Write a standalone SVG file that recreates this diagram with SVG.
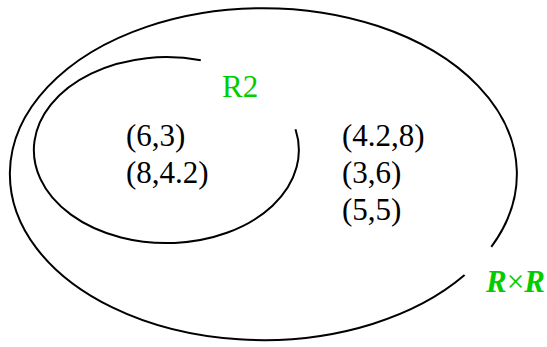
<svg xmlns="http://www.w3.org/2000/svg" width="547" height="347" viewBox="0 0 547 347">
<style>
.curve{fill:none;stroke:#000;stroke-width:2}
.t{font-family:"Liberation Serif","Times New Roman",serif;font-size:31px;fill:#000}
.g{fill:#00cc00}
</style>
<rect width="547" height="347" fill="#fff"/>
<g id="RxR-set">
<path class="curve" d="M491.3,246.8 A253.5,166 0 1 0 464.6,275.1"/>
<text class="t g" x="486" y="292" font-weight="bold" font-style="italic">R<tspan font-weight="normal" font-style="normal">×</tspan>R</text>
</g>
<g id="R2-set">
<path class="curve" d="M295.5,129.3 A132.5,93 0 1 1 200.8,60.3"/>
<text class="t g" x="222" y="97">R2</text>
</g>
<g id="inner-pairs">
<text class="t" x="126" y="146">(6,3)</text>
<text class="t" x="126" y="183">(8,4.2)</text>
</g>
<g id="outer-pairs">
<text class="t" x="342" y="146">(4.2,8)</text>
<text class="t" x="342" y="183">(3,6)</text>
<text class="t" x="342" y="220">(5,5)</text>
</g>
<g id="connectors"></g>
</svg>
